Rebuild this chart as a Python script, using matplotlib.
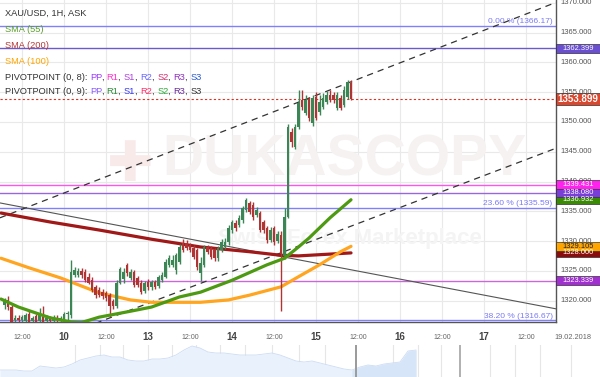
import matplotlib
matplotlib.use("Agg")
import matplotlib.pyplot as plt
import matplotlib.transforms as mtransforms
from matplotlib.patches import Rectangle
import numpy as np

plt.rcParams['font.family'] = ['Liberation Sans', 'DejaVu Sans']

# ---------------- data ----------------
first_hour = -17          # hour of first candle, relative to day "10" 00:00
opens = [1319.2, 1320.1, 1318.9, 1316.7, 1317.1, 1316.8, 1316.5, 1317.8, 1316.6, 1317.4,
         1316.5, 1317.5, 1316.5, 1317.0, 1316.6, 1317.1, 1316.8, 1316.9, 1317.7, 1317.5,
         1324.3, 1324.3, 1325.0, 1324.8, 1324.0, 1323.4, 1322.2, 1321.8, 1321.5, 1321.2,
         1320.9, 1319.9, 1319.1, 1323.0, 1323.6, 1325.9, 1323.8, 1324.8, 1323.8, 1322.9,
         1321.6, 1323.1, 1322.3, 1323.1, 1322.5, 1323.5, 1324.0, 1326.0, 1326.0, 1325.1,
         1326.5, 1329.7, 1329.6, 1329.3, 1328.8, 1328.5, 1324.6, 1326.0, 1329.0, 1328.8,
         1328.5, 1327.1, 1328.5, 1329.0, 1329.8, 1331.8, 1333.0, 1332.7, 1333.5, 1335.2,
         1336.4, 1336.0, 1334.4, 1334.7, 1333.2, 1332.2, 1330.2, 1332.2, 1330.0, 1331.0,
         1327.5, 1334.0, 1348.3, 1345.8, 1349.2, 1353.7, 1351.5, 1353.7, 1349.8, 1354.2,
         1351.7, 1352.5, 1353.4, 1354.5, 1354.5, 1352.4, 1354.0, 1352.9, 1354.2, 1356.6]
highs = [1320.4, 1320.7, 1319.2, 1317.5, 1317.6, 1317.5, 1317.9, 1318.3, 1317.4, 1317.8,
         1318.8, 1319.1, 1317.5, 1317.4, 1317.6, 1317.5, 1317.4, 1318.0, 1318.3, 1326.8,
         1325.6, 1325.5, 1325.4, 1325.3, 1324.6, 1323.9, 1322.6, 1322.3, 1322.0, 1321.6,
         1321.3, 1320.3, 1323.5, 1325.6, 1325.5, 1326.3, 1325.3, 1325.2, 1324.2, 1323.4,
         1323.3, 1323.6, 1323.5, 1323.5, 1324.3, 1324.8, 1326.9, 1327.6, 1327.6, 1328.0,
         1329.5, 1330.3, 1330.1, 1329.7, 1329.3, 1328.9, 1327.3, 1329.4, 1329.4, 1329.2,
         1328.9, 1329.2, 1330.3, 1330.5, 1332.7, 1333.6, 1333.5, 1334.3, 1335.9, 1337.2,
         1336.8, 1336.5, 1335.7, 1335.1, 1333.6, 1332.6, 1332.3, 1332.6, 1331.7, 1331.6,
         1335.5, 1349.7, 1349.0, 1349.6, 1355.4, 1355.3, 1354.5, 1354.2, 1354.6, 1355.0,
         1354.5, 1354.8, 1355.2, 1355.3, 1355.0, 1355.0, 1354.5, 1356.0, 1357.1, 1357.0]
lows = [1318.6, 1318.4, 1315.5, 1315.5, 1315.5, 1315.5, 1315.5, 1315.5, 1315.5, 1315.5,
        1315.5, 1315.5, 1315.5, 1315.5, 1315.5, 1315.5, 1316.2, 1316.5, 1316.8, 1317.1,
        1323.9, 1323.9, 1323.8, 1323.1, 1322.7, 1321.4, 1320.5, 1320.6, 1320.3, 1319.9,
        1317.2, 1318.6, 1318.7, 1322.7, 1323.0, 1324.2, 1323.4, 1322.2, 1322.2, 1321.1,
        1321.2, 1321.8, 1321.8, 1321.9, 1322.1, 1323.1, 1323.7, 1325.7, 1325.6, 1324.4,
        1326.2, 1328.1, 1328.5, 1328.1, 1326.9, 1325.2, 1323.3, 1325.6, 1327.8, 1326.9,
        1326.7, 1326.7, 1328.1, 1328.6, 1329.4, 1331.4, 1331.7, 1332.3, 1333.1, 1334.8,
        1334.5, 1333.6, 1334.0, 1331.5, 1331.4, 1329.7, 1329.8, 1329.4, 1329.6, 1318.2,
        1327.0, 1333.8, 1345.8, 1345.4, 1348.9, 1352.0, 1351.1, 1350.2, 1349.3, 1350.3,
        1351.2, 1352.1, 1353.0, 1353.3, 1353.2, 1352.0, 1352.0, 1352.5, 1353.9, 1353.7]
closes = [1320.1, 1318.9, 1316.0, 1317.1, 1316.8, 1317.3, 1317.5, 1316.0, 1317.0, 1316.0,
          1317.5, 1316.0, 1317.0, 1316.6, 1317.1, 1316.8, 1317.1, 1317.7, 1317.9, 1324.8,
          1325.1, 1325.0, 1324.3, 1323.5, 1323.0, 1321.8, 1320.9, 1321.0, 1320.7, 1320.4,
          1319.0, 1319.1, 1323.0, 1325.3, 1324.8, 1324.6, 1324.8, 1322.6, 1322.6, 1321.5,
          1322.9, 1322.2, 1323.1, 1322.3, 1323.9, 1324.3, 1326.5, 1327.2, 1326.8, 1327.6,
          1329.0, 1328.5, 1328.9, 1328.5, 1327.3, 1325.6, 1326.3, 1329.0, 1328.2, 1327.3,
          1327.1, 1328.8, 1329.8, 1329.8, 1332.2, 1333.2, 1332.2, 1333.8, 1335.5, 1336.9,
          1334.9, 1334.0, 1335.2, 1331.9, 1331.9, 1330.2, 1331.9, 1329.8, 1331.2, 1327.8,
          1334.0, 1349.2, 1346.6, 1349.2, 1353.2, 1352.5, 1353.7, 1350.7, 1354.0, 1350.7,
          1353.4, 1354.0, 1354.5, 1353.7, 1353.7, 1354.5, 1352.4, 1355.4, 1356.7, 1353.899]

sma55_hours = [-18, -13, -4, 2, 5, 10, 19, 25, 33, 39, 48, 58, 63, 67, 70, 76, 82]
sma55_vals = [1320.25, 1318.9, 1317.1, 1316.4, 1316.3, 1317.2, 1318.2, 1318.9, 1320.6,
              1321.4, 1323.4, 1326.0, 1327.1, 1329.0, 1330.5, 1333.9, 1336.932]
sma200_hours = [-18, -4, 10, 25, 39, 53, 62, 67, 73, 82]
sma200_vals = [1334.7, 1333.2, 1331.85, 1330.3, 1329.0, 1328.2, 1327.6, 1327.5, 1327.7, 1328.0]
sma100_hours = [-18, -10, -1, 10, 19, 25, 39, 47, 53, 62, 67, 73, 79, 82]
sma100_vals = [1327.1, 1325.5, 1323.8, 1321.3, 1320.1, 1319.7, 1319.7, 1320.1, 1320.9,
               1322.3, 1324.0, 1326.0, 1328.2, 1329.105]

channel_upper_hours = [-18.3, 140.6]
channel_upper_vals = [1333.9, 1370.1]
channel_lower_hours = [6, 140.6]
channel_lower_vals = [1315.5, 1345.6]
trend_down_hours = [-18.3, 140.6]
trend_down_vals = [1336.4, 1318.6]

fib_levels = [1366.17, 1335.59, 1316.67]
fib_labels = ["0.00 % (1366.17)", "23.60 % (1335.59)", "38.20 % (1316.67)"]
pivot_levels = [1362.399, 1339.431, 1338.080, 1323.339]
pivot_colors = ['#6a5acd', '#ff55ee', '#9a66e0', '#cc66dd']
last_price = 1353.899

y_ticks = [1320, 1325, 1330, 1335, 1340, 1345, 1350, 1355, 1360, 1365, 1370]
x_tick_hours = [-12, 0, 12, 24, 36, 48, 60, 72, 84, 96, 108, 120, 132, 144]
x_tick_labels = ["12:00", "10", "12:00", "13", "12:00", "14", "12:00", "15",
                 "12:00", "16", "12:00", "17", "12:00", "19.02.2018"]

nav_values = [7, 7, 7, 6, 6, 11, 10, 9, 10, 13, 17, 19, 21, 22, 20, 20, 17, 16, 16, 18,
              18, 19, 22, 27, 31, 29, 25, 24, 24, 23, 22, 22, 22, 23, 24, 22, 19, 16, 15,
              16, 14, 12, 10, 8, 7, 10, 12, 11, 13, 14, 15, 26, 27]

# ---------------- figure ----------------
W, H = 600, 377
fig = plt.figure(figsize=(W / 100, H / 100), dpi=100)
ax = fig.add_axes([0, 55 / H, 556 / W, 322 / H])
ax.set_xlim(-18.29, 140.57)
ax.set_ylim(1316.39, 1370.50)
ax.set_xticks([])
ax.set_yticks([])
for s in ['top', 'left']:
    ax.spines[s].set_visible(False)
for s in ['right', 'bottom']:
    ax.spines[s].set_color('#555555')
    ax.spines[s].set_linewidth(1.0)

# grid
for yv in y_ticks:
    ax.axhline(yv, color='#e9e9e9', lw=0.8, zorder=0)
for xv in x_tick_hours:
    ax.axvline(xv, color='#e9e9e9', lw=0.8, zorder=0)

# watermark
ax.text(0.235, 0.48, '\u271a', transform=ax.transAxes, fontsize=40, color='#f9eaea',
        ha='center', va='center', zorder=0.5)
ax.text(0.62, 0.5, 'DUKASCOPY', transform=ax.transAxes, fontsize=41, color='#f6f2f2',
        fontweight='bold', ha='center', va='center', zorder=0.5)
ax.text(0.63, 0.26, 'Swiss Forex Marketplace', transform=ax.transAxes, fontsize=16,
        color='#f4f4f4', fontweight='bold', ha='center', va='center', zorder=0.5)

# horizontal levels
for lv in fib_levels:
    ax.axhline(lv, color='#8080ff', lw=1.0, zorder=1)
for lv, lab in zip(fib_levels, fib_labels):
    ax.text(139.6, lv + 0.12, lab, color='#7a7af5', fontsize=6.0, ha='right',
            va='bottom', zorder=2)
for lv, c in zip(pivot_levels, pivot_colors):
    ax.axhline(lv, color=c, lw=1.0, zorder=1)
ax.axhline(last_price, color='#e0301e', lw=0.8, ls=(0, (2, 2)), zorder=1)

# trend lines
ax.plot(channel_upper_hours, channel_upper_vals, color='#333333', lw=0.9,
        ls=(0, (5, 4)), zorder=2)
ax.plot(channel_lower_hours, channel_lower_vals, color='#333333', lw=0.9,
        ls=(0, (5, 4)), zorder=2)
ax.plot(trend_down_hours, trend_down_vals, color='#555555', lw=0.8, zorder=2)

# SMAs
ax.plot(sma200_hours, sma200_vals, color='#a01818', lw=2.3, zorder=3, solid_capstyle='round')
ax.plot(sma100_hours, sma100_vals, color='#ffa51f', lw=2.3, zorder=3, solid_capstyle='round')

# candles
hours = first_hour + np.arange(len(closes))
o = np.array(opens); c = np.array(closes); h = np.array(highs); l = np.array(lows)
up = c >= o
col = np.where(up, '#3c8656', '#b03434')
ax.vlines(hours, l, h, colors=col, lw=1.0, zorder=4)
body_lo = np.minimum(o, c)
body_h = np.maximum(np.abs(c - o), 0.15)
ax.bar(hours, body_h, bottom=body_lo, width=0.8, color=col, linewidth=0, zorder=4)

ax.plot(sma55_hours, sma55_vals, color='#4d9a12', lw=2.3, zorder=5, solid_capstyle='round')

# right price axis
blend = mtransforms.blended_transform_factory(ax.transAxes, ax.transData)
for yv in y_ticks:
    ax.text(1.0075, yv, f"{yv:.3f}", transform=blend, fontsize=5.5, color='#555555',
            ha='left', va='center', clip_on=False)

upp = (1370.50 - 1316.39) / 322.0
box_w = 44 / 556


def price_box(val, face, txtcol='white', hpx=9, size=5.4, bold=False):
    hh = hpx * upp
    ax.add_patch(Rectangle((1.0, val - hh / 2), box_w, hh, transform=blend,
                           facecolor=face, edgecolor='#333333', lw=0.5,
                           clip_on=False, zorder=10))
    ax.text(1.0 + box_w / 2, val, f"{val:.3f}", transform=blend, fontsize=size,
            color=txtcol, ha='center', va='center', clip_on=False, zorder=11,
            fontweight='bold' if bold else 'normal')


price_box(pivot_levels[0], '#6a4fd0')
price_box(last_price, '#d9472f', hpx=12, size=7, bold=True)
price_box(sma55_vals[-1], '#3a8a06')
price_box(pivot_levels[2], '#7a3ed8')
price_box(pivot_levels[1], '#ff22ee')
price_box(sma200_vals[-1], '#8a0c0c')
price_box(sma100_vals[-1], '#ffa500', txtcol='#222222')
price_box(pivot_levels[3], '#a030d0')

# x labels
blend_x = mtransforms.blended_transform_factory(ax.transData, ax.transAxes)
for xv, lab in zip(x_tick_hours, x_tick_labels):
    if lab == "12:00":
        ax.text(xv, -0.048, lab, transform=blend_x, fontsize=5, color='#666666',
                ha='center', va='center', clip_on=False)
    elif lab.isdigit():
        ax.text(xv, -0.048, lab, transform=blend_x, fontsize=7, color='#444444',
                fontweight='bold', ha='center', va='center', clip_on=False)
    else:
        ax.text(xv + 1.5, -0.048, lab, transform=blend_x, fontsize=5.3, color='#666666',
                ha='center', va='center', clip_on=False)

# legend (multi-coloured text)
renderer = fig.canvas.get_renderer()


def colored_line(x_px, y_px, parts, size=6.7):
    full = ""
    for s, colr in parts:
        probe = fig.text(0, 0, full + "|", fontsize=size)
        bar = fig.text(0, 0, "|", fontsize=size)
        off = probe.get_window_extent(renderer).width - bar.get_window_extent(renderer).width
        probe.remove(); bar.remove()
        if full == "":
            off = 0
        fig.text((x_px + off) / W, 1 - y_px / H, s, color=colr, fontsize=size,
                 ha='left', va='center')
        full += s


colored_line(5, 13, [("XAU/USD, 1H, ASK", '#333333')])
colored_line(5, 29, [("SMA (55)", '#5a9e2a')])
colored_line(5, 45, [("SMA (200)", '#b23a3a')])
colored_line(5, 61, [("SMA (100)", '#ffa500')])
sep = '#333333'
colored_line(5, 77, [("PIVOTPOINT (0, 8): ", sep), ("PP", '#9c3cff'), (", ", sep),
                     ("R1", '#ff2fd0'), (", ", sep), ("S1", '#b040e0'), (", ", sep),
                     ("R2", '#6a6aff'), (", ", sep), ("S2", '#d0306a'), (", ", sep),
                     ("R3", '#9030c0'), (", ", sep), ("S3", '#2a5ad0')])
colored_line(5, 91, [("PIVOTPOINT (0, 9): ", sep), ("PP", '#8a5cff'), (", ", sep),
                     ("R1", '#2e8b3a'), (", ", sep), ("S1", '#3434f0'), (", ", sep),
                     ("R2", '#ff2f6a'), (", ", sep), ("S2", '#2ea83a'), (", ", sep),
                     ("R3", '#6a2a9a'), (", ", sep), ("S3", '#333333')])

# navigator
nav = fig.add_axes([0, 0, 1, 32 / H])
nav.set_xlim(0, 600)
nav.set_ylim(0, 32)
nav.axis('off')
nav_x = np.arange(len(nav_values)) * 8
for gx in [75, 100, 123, 148, 172, 196, 220, 245, 272, 299, 325, 393, 418, 441, 490, 515, 540, 571]:
    nav.axvline(gx, color='#e6e6e6', lw=0.8, zorder=0)
nav.fill_between(nav_x, 0, nav_values, color='#e9f1fc', lw=0, zorder=1)
sel = nav_x >= 352
nav.fill_between(nav_x[sel], 0, np.array(nav_values)[sel], color='#d7e5f8', lw=0, zorder=1)
nav.plot(nav_x, nav_values, color='#cddcf4', lw=0.6, zorder=2)
nav.axvline(356, color='#9a9a9a', lw=1.4, zorder=3)
nav.axvline(460, color='#b0b0b0', lw=1.4, zorder=3)

fig.savefig('out.png', dpi=100)
